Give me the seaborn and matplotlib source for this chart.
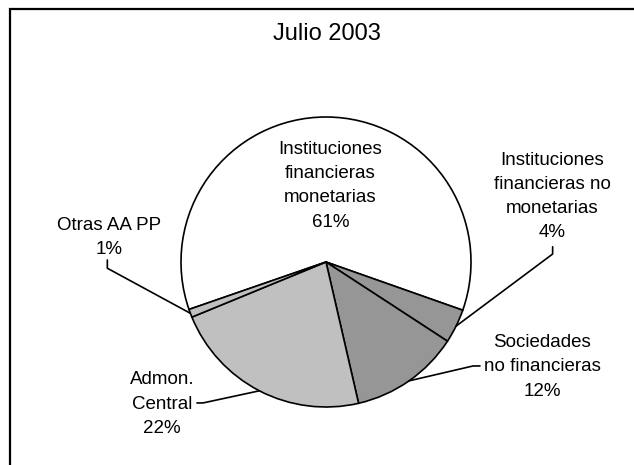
import matplotlib
matplotlib.use("Agg")
import matplotlib.pyplot as plt
import matplotlib.patches as patches
import numpy as np
import seaborn as sns

# datos (porcentajes del gráfico)
sectores = ['Instituciones\nfinancieras\nmonetarias',
            'Instituciones\nfinancieras no\nmonetarias',
            'Sociedades\nno financieras',
            'Admon.\nCentral',
            'Otras AA PP']
valores = [60.7, 3.8, 12.2, 22.4, 0.9]
colores = ['#ffffff', '#969696', '#969696', '#c0c0c0', '#c0c0c0']
titulo = 'Julio 2003'

sns.set_theme(style="white")
plt.rcParams['font.family'] = ['Liberation Sans', 'DejaVu Sans']
plt.rcParams['text.color'] = 'black'

fig = plt.figure(figsize=(6.34, 4.65), dpi=100)
fig.patch.set_facecolor('white')

# marco del gráfico (cortado a la derecha y abajo)
fig.patches.append(patches.Rectangle((9.5 / 634, -0.1), 1.2, 1.1 - 9.5 / 465,
                                     transform=fig.transFigure, fill=False,
                                     edgecolor='black', linewidth=1.6))

# ejes de la tarta: centro (326, 262) px, radio 145 px
ax = fig.add_axes([(326 - 145) / 634, (465 - 262 - 145) / 465, 290 / 634, 290 / 465])
wedges, _ = ax.pie(valores, colors=colores, startangle=199.1, counterclock=False,
                   wedgeprops=dict(edgecolor='black', linewidth=1.2))
ax.set_xlim(-1, 1)
ax.set_ylim(-1, 1)
ax.axis('off')

fig.text(327 / 634, 1 - 34 / 465, titulo, ha='center', va='center',
         fontsize=17, color='black')

# posiciones de etiquetas y líneas guía
pos_texto = [(0.03, 0.525), (1.56, 0.45), (1.49, -0.724), (-1.13, -0.98), (-1.497, 0.169)]
guias = [None,
         [(1.563, 0.105), (1.563, 0.055)],
         [(1.062, -0.717), (1.014, -0.717)],
         [(-0.89, -0.972), (-0.848, -0.972)],
         [(-1.508, 0.014), (-1.508, -0.043)]]

for w, nombre, v, (tx, ty), g in zip(wedges, sectores, valores, pos_texto, guias):
    etiqueta = f"{nombre}\n{v:.0f}%"
    ax.text(tx, ty, etiqueta, ha='center', va='center', fontsize=13.5,
            linespacing=1.55, color='black')
    if g is not None:
        ang = np.deg2rad((w.theta1 + w.theta2) / 2)
        px, py = np.cos(ang), np.sin(ang)
        xs = [g[0][0], g[1][0], px]
        ys = [g[0][1], g[1][1], py]
        ax.plot(xs, ys, color='black', linewidth=1.2, clip_on=False)

fig.savefig('out.png', dpi=100)
